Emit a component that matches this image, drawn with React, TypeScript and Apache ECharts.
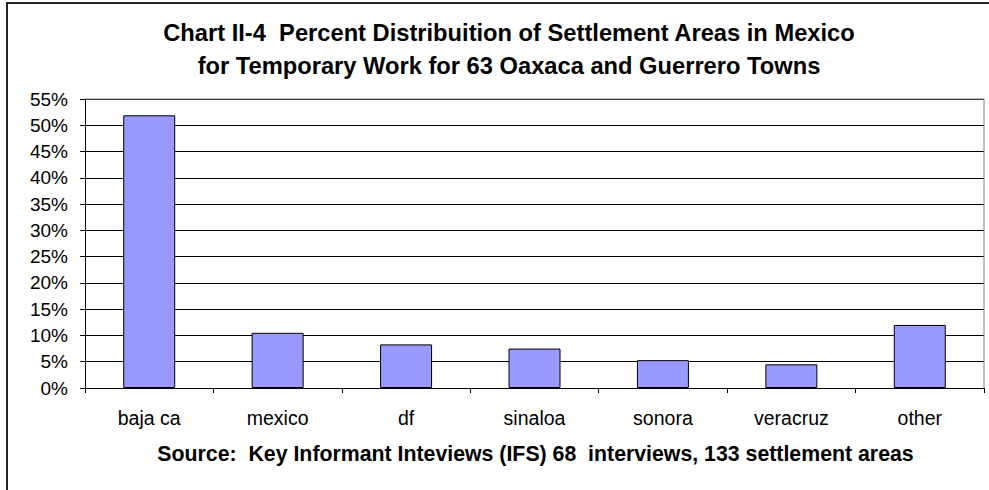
import React, { useEffect, useRef } from "react";
import * as echarts from "echarts";

const titleLines = [
  "Chart II-4  Percent Distribuition of Settlement Areas in Mexico",
  "for Temporary Work for 63 Oaxaca and Guerrero Towns",
];
const sourceText = "Source:  Key Informant Inteviews (IFS) 68  interviews, 133 settlement areas";
const categories = ["baja ca", "mexico", "df", "sinaloa", "sonora", "veracruz", "other"];
const percentValues = [51.9, 10.5, 8.3, 7.5, 5.3, 4.5, 12.0];
const yMin = 0;
const yMax = 55;
const yInterval = 5;

export default function App() {
  const ref = useRef<HTMLDivElement>(null);
  useEffect(() => {
    document.body.style.margin = "0";
    const chart = echarts.init(ref.current!, null, { renderer: "svg" });
    const font = "'Liberation Sans', Arial, sans-serif";
    chart.setOption({
      animation: false,
      backgroundColor: "#ffffff",
      textStyle: { fontFamily: font },
      title: {
        text: titleLines.join("\n"),
        left: 504,
        textAlign: "center",
        top: 12,
        textStyle: {
          fontFamily: font,
          fontSize: 23.7,
          fontWeight: "bold",
          color: "#000",
          lineHeight: 32.5,
        },
      },
      grid: {
        left: 85,
        right: 5,
        top: 99,
        bottom: 102,
        show: false,
      },
      xAxis: {
        type: "category",
        data: categories,
        boundaryGap: true,
        axisLine: { show: true, lineStyle: { color: "#000", width: 1 } },
        axisTick: { show: true, length: 5, inside: false, lineStyle: { color: "#000" } },
        axisLabel: { color: "#000", fontSize: 19.5, fontFamily: font, margin: 20 },
        splitLine: { show: false },
      },
      yAxis: {
        type: "value",
        min: yMin,
        max: yMax,
        interval: yInterval,
        axisLine: { show: true, lineStyle: { color: "#000", width: 1 } },
        axisTick: { show: true, length: 5, lineStyle: { color: "#000" } },
        axisLabel: {
          color: "#000",
          fontSize: 19,
          fontFamily: font,
          margin: 17,
          formatter: (v: number) => `${v}%`,
        },
        splitLine: { show: true, lineStyle: { color: "#000", width: 1 } },
      },
      graphic: [
        {
          type: "rect",
          shape: { x: 7, y: 3, width: 1000, height: 500 },
          style: { fill: "none", stroke: "#222", lineWidth: 2 },
          silent: true,
          z: 100,
        },
        {
          type: "polyline",
          shape: { points: [[85, 99], [984, 99], [984, 388]] },
          style: { fill: "none", stroke: "#808080", lineWidth: 1 },
          silent: true,
          z: 100,
        },
        {
          type: "text",
          x: 535.5,
          y: 454,
          style: {
            text: sourceText,
            fontFamily: font,
            fontSize: 21.3,
            fontWeight: "bold",
            fill: "#000",
            align: "center",
            verticalAlign: "middle",
          },
          z: 100,
        },
      ],
      series: [
        {
          type: "bar",
          data: percentValues,
          barWidth: 52,
          itemStyle: { color: "#9999ff", borderColor: "#000", borderWidth: 1 },
        },
      ],
    });
    return () => chart.dispose();
  }, []);
  return <div ref={ref} style={{ width: 989, height: 490 }} />;
}
